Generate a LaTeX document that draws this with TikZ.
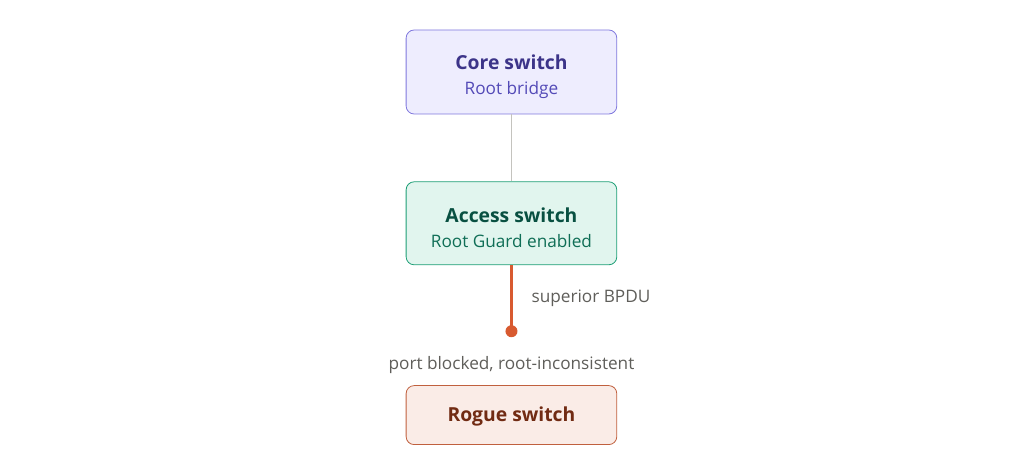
\documentclass[tikz,border=0pt]{standalone}
\usepackage{fontspec}
\setmainfont{Open Sans}
\usetikzlibrary{positioning}
\definecolor{corefill}{HTML}{EEEDFE}
\definecolor{coreline}{HTML}{7F77DD}
\definecolor{coretitle}{HTML}{3C3489}
\definecolor{coresub}{HTML}{534AB7}
\definecolor{accfill}{HTML}{E1F5EE}
\definecolor{accline}{HTML}{1D9E75}
\definecolor{acctitle}{HTML}{085041}
\definecolor{accsub}{HTML}{0F6E56}
\definecolor{roguefill}{HTML}{FAECE7}
\definecolor{rogueline}{HTML}{C0603E}
\definecolor{roguetitle}{HTML}{712B13}
\definecolor{bpduline}{HTML}{D85A30}
\definecolor{uplinkline}{HTML}{C4C3BE}
\definecolor{notetext}{HTML}{5F5E5A}
\newcommand{\boxtitle}[1]{{\fontsize{14.5}{18}\selectfont\bfseries #1}}
\newcommand{\boxsub}[1]{{\fontsize{12.9}{15}\selectfont #1}}
\newcommand{\boxstrut}{\rule{0pt}{18pt}}
\tikzstyle{switchbox} = [rectangle, draw, rounded corners=6pt, line width=0.6pt,
  minimum width=158pt, align=center, inner sep=0pt]
\tikzstyle{core} = [switchbox, fill=corefill, draw=coreline, minimum height=63pt]
\tikzstyle{access} = [switchbox, fill=accfill, draw=accline, minimum height=62.25pt]
\tikzstyle{rogue} = [switchbox, fill=roguefill, draw=rogueline, minimum height=44.25pt]
\tikzstyle{uplink} = [draw=uplinkline, line width=0.75pt]
\tikzstyle{bpdu} = [draw=bpduline, line width=2.2pt]
\tikzstyle{note} = [text=notetext, font=\fontsize{12.9}{15}\selectfont, inner sep=0pt]

\begin{document}
\begin{tikzpicture}
    \node [core] (core) {\boxstrut\textcolor{coretitle}{\boxtitle{Core switch}}\\[6.5pt]
      \textcolor{coresub}{\boxsub{Root bridge}}};
    \node [access, below=50.25pt of core] (access) {\boxstrut\textcolor{acctitle}{\boxtitle{Access switch}}\\[6.5pt]
      \textcolor{accsub}{\boxsub{Root Guard enabled}}};
    \coordinate [below=49.5pt of access] (block);
    \node [rogue, below=40.5pt of block] (rogue) {\rule{0pt}{13pt}\textcolor{roguetitle}{\boxtitle{Rogue switch}}};

    \useasboundingbox ([xshift=-383.6pt, yshift=54pt]core.center)
      rectangle ([xshift=384.4pt, yshift=-290.25pt]core.center);

    \path [uplink] (core) -- (access);
    \path [bpdu] (access) -- (block)
      node [note, midway, right=14pt] (superior) {superior BPDU};
    \fill [bpduline] (block) circle (4.5pt);
    \node [note] (blocked) at ([yshift=-25pt]block) {port blocked, root-inconsistent};

  \end{tikzpicture}
\end{document}
